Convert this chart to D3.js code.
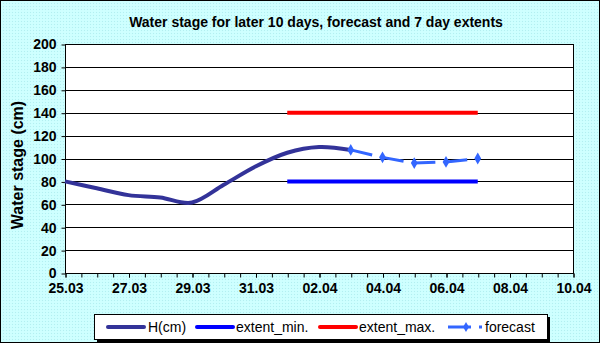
<!DOCTYPE html>
<html>
<head>
<meta charset="utf-8">
<script src="https://cdn.jsdelivr.net/npm/d3@7"></script>
<style>
  body { margin: 0; }
  svg { display: block; font-family: Arial, "Liberation Sans", sans-serif; }
</style>
</head>
<body>
<svg id="chart" width="600" height="343"></svg>
<script>
// observed water stage
const h_dates = ["25.03", "26.03", "27.03", "28.03", "29.03", "30.03", "31.03", "01.04", "02.04", "03.04"];
const h_values = [80, 74, 68, 66, 61.5, 77, 93, 105, 110, 107.5];

// forecast
const fc_dates = ["03.04", "04.04", "05.04", "06.04", "07.04"];
const fc_values = [107.5, 101, 96, 97, 100];

// 7 day extents
const ext_dates = ["01.04", "07.04"];
const ext_min = [80, 80];
const ext_max = [140, 140];

const x_labels = ["25.03", "27.03", "29.03", "31.03", "02.04", "04.04", "06.04", "08.04", "10.04"];
const y_ticks = [0, 20, 40, 60, 80, 100, 120, 140, 160, 180, 200];

const title = "Water stage for later 10 days, forecast and 7 day extents";
const y_title = "Water stage (cm)";
const legend_items = ["H(cm)", "extent_min.", "extent_max.", "forecast"];

const parse = s => {
    const [d, m] = s.split(".").map(Number);
    return new Date(2009, m - 1, d);
};

const svg = d3.select("#chart");
const W = 600, H = 343;
const plot = {left: 65, right: 573, top: 44, bottom: 273};
const font = "Arial, 'Liberation Sans', sans-serif";

// background with dotted texture
const defs = svg.append("defs");
const pat = defs.append("pattern")
    .attr("id", "dots")
    .attr("width", 3).attr("height", 3)
    .attr("patternUnits", "userSpaceOnUse");
pat.append("rect").attr("width", 3).attr("height", 3).attr("fill", "#ccffff");
pat.append("rect").attr("x", 0).attr("y", 0).attr("width", 1).attr("height", 1).attr("fill", "#b4eef0");
pat.append("rect").attr("x", 1.5).attr("y", 1.5).attr("width", 1).attr("height", 1).attr("fill", "#d9ffff");

svg.append("rect")
    .attr("x", 0.5).attr("y", 0.5)
    .attr("width", W - 1).attr("height", H - 1)
    .attr("fill", "url(#dots)")
    .attr("stroke", "#000");

// scales
const x = d3.scaleTime()
    .domain([parse(x_labels[0]), parse(x_labels[x_labels.length - 1])])
    .range([plot.left, plot.right]);

const y = d3.scaleLinear()
    .domain([0, 200])
    .range([plot.bottom, plot.top]);

// plot area
svg.append("rect")
    .attr("x", plot.left).attr("y", plot.top)
    .attr("width", plot.right - plot.left).attr("height", plot.bottom - plot.top)
    .attr("fill", "#fff");

// gridlines
svg.append("g")
    .selectAll("line")
    .data(y_ticks).enter()
    .append("line")
    .attr("x1", plot.left).attr("x2", plot.right)
    .attr("y1", d => Math.round(y(d)) + 0.5)
    .attr("y2", d => Math.round(y(d)) + 0.5)
    .attr("stroke", "#000");

svg.append("rect")
    .attr("x", plot.left + 0.5).attr("y", plot.top + 0.5)
    .attr("width", plot.right - plot.left).attr("height", plot.bottom - plot.top)
    .attr("fill", "none")
    .attr("stroke", "#000");

// axis_y
const axis_y = d3.axisLeft(y).tickValues(y_ticks).tickSize(4).tickPadding(5);
const gy = svg.append("g")
    .attr("transform", `translate(${plot.left + 0.5},0.5)`)
    .call(axis_y);
gy.select(".domain").remove();
gy.selectAll("text")
    .attr("font-size", 14).attr("font-weight", "bold").attr("fill", "#000")
    .attr("font-family", font);

// axis_x, small ticks every half day
const half_days = d3.range(0, 16.01, 0.5).map(d => new Date(+parse(x_labels[0]) + d * 864e5));
const gx_minor = svg.append("g")
    .attr("transform", `translate(0.5,${plot.bottom + 0.5})`)
    .call(d3.axisBottom(x).tickValues(half_days).tickSize(4).tickFormat(""));
gx_minor.select(".domain").remove();

const gx = svg.append("g")
    .attr("transform", `translate(0.5,${plot.bottom + 0.5})`)
    .call(d3.axisBottom(x).tickValues(x_labels.map(parse)).tickSize(4).tickPadding(6)
        .tickFormat(d3.timeFormat("%d.%m")));
gx.select(".domain").remove();
gx.selectAll("text")
    .attr("font-size", 14).attr("font-weight", "bold").attr("fill", "#000")
    .attr("font-family", font);

// lines
const line = d3.line()
    .x(d => x(d[0]))
    .y(d => y(d[1]));

const pairs = (dates, vals) => dates.map((d, i) => [parse(d), vals[i]]);

svg.append("path")
    .datum(pairs(ext_dates, ext_min))
    .attr("d", line)
    .attr("fill", "none")
    .attr("stroke", "#0000ff")
    .attr("stroke-width", 4);

svg.append("path")
    .datum(pairs(ext_dates, ext_max))
    .attr("d", line)
    .attr("fill", "none")
    .attr("stroke", "#ff0000")
    .attr("stroke-width", 4);

svg.append("path")
    .datum(pairs(h_dates, h_values))
    .attr("d", line.curve(d3.curveCardinal.tension(0)))
    .attr("fill", "none")
    .attr("stroke", "#333399")
    .attr("stroke-width", 4)
    .attr("stroke-linejoin", "round");

const fc = pairs(fc_dates, fc_values);
svg.append("path")
    .datum(fc)
    .attr("d", d3.line().x(d => x(d[0])).y(d => y(d[1])))
    .attr("fill", "none")
    .attr("stroke", "#3366ff")
    .attr("stroke-width", 3)
    .attr("stroke-dasharray", "22 10");

svg.append("g")
    .selectAll("path")
    .data(fc).enter()
    .append("path")
    .attr("transform", d => `translate(${x(d[0])},${y(d[1])})`)
    .attr("d", d3.symbol(d3.symbolDiamond, 40))
    .attr("fill", "#3366ff");

// titles
svg.append("text")
    .attr("x", 316).attr("y", 27)
    .attr("text-anchor", "middle")
    .attr("font-size", 14).attr("font-weight", "bold")
    .text(title);

svg.append("text")
    .attr("transform", "translate(23,165) rotate(-90)")
    .attr("text-anchor", "middle")
    .attr("font-size", 16).attr("font-weight", "bold")
    .text(y_title);

// legend
const lg = svg.append("g");
lg.append("rect")
    .attr("x", 97).attr("y", 317).attr("width", 453).attr("height", 25)
    .attr("fill", "#000");
lg.append("rect")
    .attr("x", 94.5).attr("y", 314.5).attr("width", 453).attr("height", 25)
    .attr("fill", "#fff").attr("stroke", "#000");

const legend_colors = ["#333399", "#0000ff", "#ff0000", "#3366ff"];
const legend_x = [108, 197, 320, 448];
const legend_tx = [148, 236, 359, 485];
const ly = 327;

legend_items.forEach((name, i) => {
    if (i < 3) {
        lg.append("line")
            .attr("x1", legend_x[i]).attr("x2", legend_x[i] + 36)
            .attr("y1", ly).attr("y2", ly)
            .attr("stroke", legend_colors[i])
            .attr("stroke-width", 4)
            .attr("stroke-linecap", "round");
    } else {
        lg.append("line")
            .attr("x1", legend_x[i]).attr("x2", legend_x[i] + 23)
            .attr("y1", ly).attr("y2", ly)
            .attr("stroke", legend_colors[i])
            .attr("stroke-width", 3);
        lg.append("path")
            .attr("transform", `translate(${legend_x[i] + 18},${ly})`)
            .attr("d", d3.symbol(d3.symbolDiamond, 30))
            .attr("fill", legend_colors[i]);
        lg.append("rect")
            .attr("x", legend_x[i] + 31).attr("y", ly - 1.5)
            .attr("width", 3).attr("height", 3)
            .attr("fill", legend_colors[i]);
    }
    lg.append("text")
        .attr("x", legend_tx[i]).attr("y", ly + 5)
        .attr("font-size", 14)
        .text(name);
});
</script>
</body>
</html>
